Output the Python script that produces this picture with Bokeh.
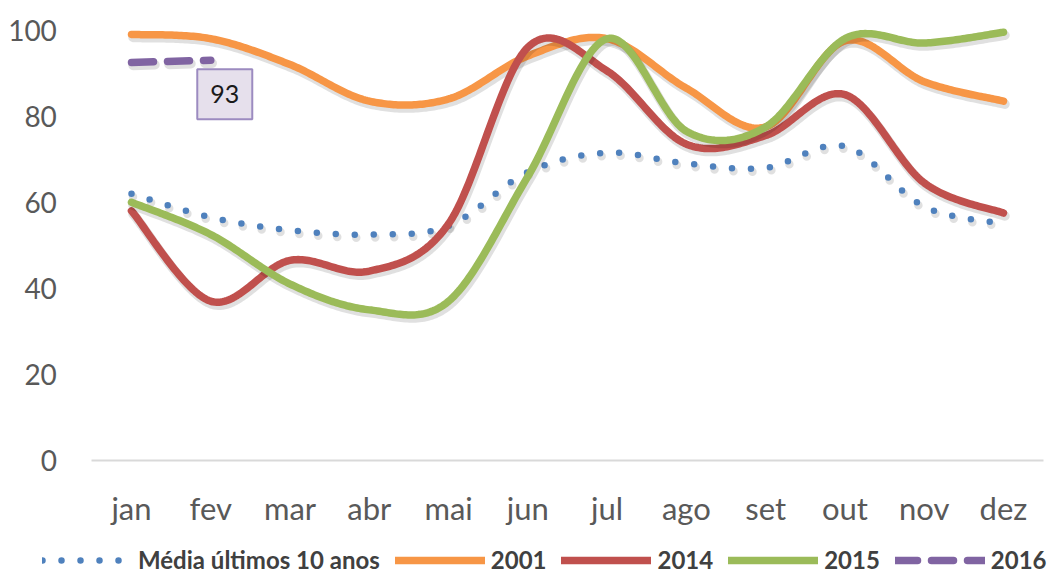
import numpy as np
from bokeh.plotting import figure
from bokeh.models import Range1d, FixedTicker, Legend, LegendItem, Label
from bokeh.embed import file_html
from bokeh.resources import INLINE

months = ["jan", "fev", "mar", "abr", "mai", "jun", "jul", "ago", "set", "out", "nov", "dez"]
media = [62, 56.5, 53.5, 52.5, 54.5, 67, 71.5, 69, 68, 73, 59, 55]
s2001 = [99, 98, 92, 83.5, 84, 94, 98, 86.5, 77.5, 97.5, 88, 83.5]
s2014 = [58, 37, 46.5, 44, 55, 96, 90.5, 73.5, 75.5, 85, 64.5, 57.5]
s2015 = [60, 52.5, 41, 35, 37, 66, 98, 76.5, 77.5, 98, 97, 99.5]
s2016 = [92.5, 93]
yticks = [0, 20, 40, 60, 80, 100]

FONT = "Lato"
TXT = "#595959"

# layout (pixels)
W, H = 1054, 574
PX_X = 79.27          # pixels per category
PX_Y = 4.304          # pixels per unit
X0_PIX = 131          # pixel of first category
Y0_PIX = 460          # pixel of value 0


def smooth(ys, n=40):
    xs = np.arange(len(ys), dtype=float)
    ys = np.asarray(ys, dtype=float)
    pts = np.column_stack([xs, ys])
    if len(pts) < 3:
        return xs, ys
    P = np.vstack([pts[0], pts, pts[-1]])
    out = []
    t = np.linspace(0, 1, n)[:, None]
    for i in range(1, len(P) - 2):
        p0, p1, p2, p3 = P[i - 1], P[i], P[i + 1], P[i + 2]
        c1 = p1 + (p2 - p0) / 6.0
        c2 = p2 - (p3 - p1) / 6.0
        seg = ((1 - t) ** 3) * p1 + 3 * ((1 - t) ** 2) * t * c1 + 3 * (1 - t) * t ** 2 * c2 + t ** 3 * p2
        out.append(seg if i == 1 else seg[1:])
    arr = np.vstack(out)
    return arr[:, 0], arr[:, 1]


x_lo = -X0_PIX / PX_X
x_hi = x_lo + W / PX_X
y_hi = Y0_PIX / PX_Y
y_lo = -(H - Y0_PIX) / PX_Y

p = figure(frame_width=W, frame_height=H, output_backend="svg", toolbar_location=None,
           x_range=Range1d(x_lo, x_hi), y_range=Range1d(y_lo, y_hi),
           min_border_left=0, min_border_top=0, min_border_right=0, min_border_bottom=0)
p.outline_line_color = None
p.xgrid.grid_line_color = None
p.ygrid.grid_line_color = None

p.xaxis.fixed_location = 0
p.xaxis.bounds = (-0.5, len(months) - 0.5)
p.xaxis.ticker = FixedTicker(ticks=list(range(len(months))))
p.xaxis.major_label_overrides = {i: m for i, m in enumerate(months)}
p.xaxis.major_tick_line_color = None
p.xaxis.minor_tick_line_color = None
p.xaxis.axis_line_color = "#D9D9D9"
p.xaxis.axis_line_width = 2
p.xaxis.major_label_standoff = 22
p.xaxis.major_label_text_font = FONT
p.xaxis.major_label_text_font_size = "31px"
p.xaxis.major_label_text_color = TXT

p.yaxis.fixed_location = -0.5
p.yaxis.ticker = FixedTicker(ticks=yticks)
p.yaxis.axis_line_color = None
p.yaxis.major_tick_line_color = None
p.yaxis.minor_tick_line_color = None
p.yaxis.major_label_standoff = 29
p.yaxis.major_label_text_font = FONT
p.yaxis.major_label_text_font_size = "28px"
p.yaxis.major_label_text_color = TXT

series = [
    ("Média últimos 10 anos", media, "#4F81BD", 6.5, "0 19"),
    ("2001", s2001, "#F79646", 7.5, "solid"),
    ("2014", s2014, "#C0504D", 7.5, "solid"),
    ("2015", s2015, "#9BBB59", 7.5, "solid"),
    ("2016", s2016, "#8064A2", 7.5, "22 14"),
]

dx_sh = 1.5 / PX_X
dy_sh = 3.0 / PX_Y

items = []
for name, ys, col, w, dash in series:
    xs_s, ys_s = smooth(ys)
    p.line(xs_s + dx_sh, ys_s - dy_sh, line_color="#000000", line_alpha=0.12,
           line_width=w + 2, line_cap="round", line_join="round", line_dash=dash)
    r = p.line(xs_s, ys_s, line_color=col, line_width=w, line_cap="round",
               line_join="round", line_dash=dash)
    items.append(LegendItem(label=name, renderers=[r]))

lab = Label(x=1, y=s2016[1], text=str(int(s2016[1])), x_units="data", y_units="data",
            x_offset=14, y_offset=-34, text_align="center", text_baseline="middle",
            text_font=FONT, text_font_size="25px", text_color="#1a1a1a",
            background_fill_color="#E6E0EC", border_line_color="#9C8BC0",
            border_line_width=2, padding=(13, 16))
p.add_layout(lab)

legend = Legend(items=items, orientation="horizontal", location=(42, 0),
                glyph_width=90, glyph_height=22, label_standoff=6, spacing=15,
                padding=0, margin=0, border_line_color=None,
                label_text_font=FONT, label_text_font_style="bold",
                label_text_font_size="24px", label_text_color="#404040",
                background_fill_alpha=0)
p.add_layout(legend)

open("out.html", "w").write(file_html(p, INLINE))
